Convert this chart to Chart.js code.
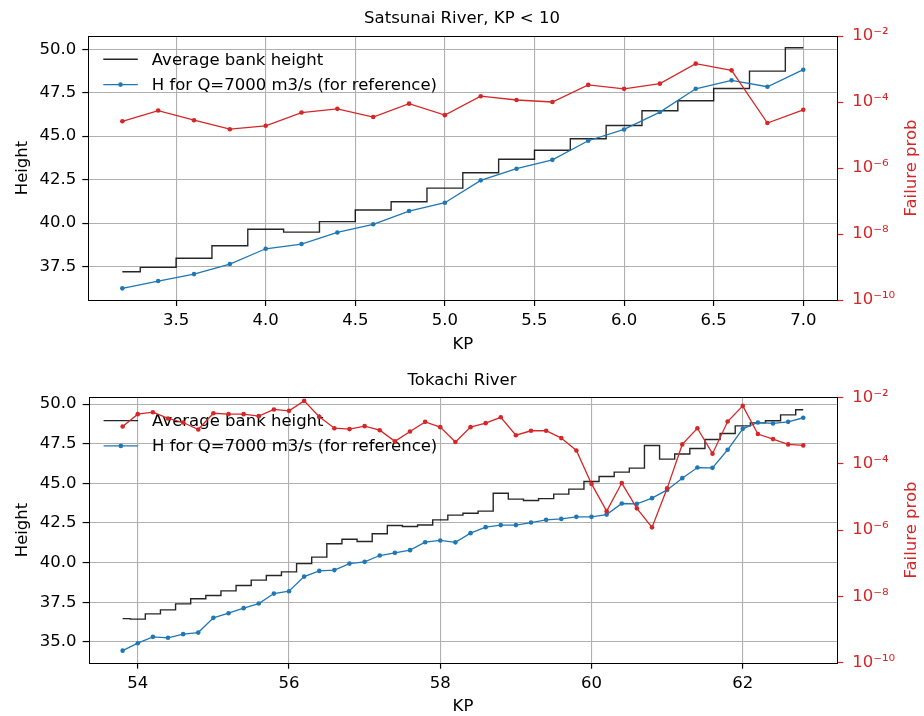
<!DOCTYPE html>
<html>
<head>
<meta charset="utf-8">
<title>Bank height and failure probability</title>
<script src="https://cdn.jsdelivr.net/npm/chart.js@4.4.1/dist/chart.umd.min.js"></script>
<style>
  html, body { margin: 0; padding: 0; background: #fff; }
  #wrap { position: relative; width: 924px; height: 716px; }
  canvas { position: absolute; left: 0; }
</style>
</head>
<body>
<div id="wrap">
  <canvas id="topChart" width="924" height="358" style="top:0;width:924px;height:358px"></canvas>
  <canvas id="bottomChart" width="924" height="358" style="top:358px;width:924px;height:358px"></canvas>
</div>
<script>
// Satsunai River, KP < 10
const satsunaiKP = [3.2, 3.4, 3.6, 3.8, 4.0, 4.2, 4.4, 4.6, 4.8, 5.0, 5.2, 5.4, 5.6, 5.8, 6.0, 6.2, 6.4, 6.6, 6.8, 7.0];
const satsunaiBank = [37.20, 37.45, 37.97, 38.69, 39.64, 39.48, 40.08, 40.75, 41.23, 42.01, 42.90, 43.67, 44.19, 44.85, 45.62, 46.47, 47.04, 47.75, 48.75, 50.09];
const satsunaiH7000 = [36.24, 36.66, 37.06, 37.64, 38.52, 38.79, 39.46, 39.93, 40.69, 41.17, 42.46, 43.13, 43.64, 44.74, 45.39, 46.39, 47.73, 48.22, 47.85, 48.83];
const satsunaiFailProb = [2.6e-5, 5.5e-5, 2.8e-5, 1.5e-5, 1.9e-5, 4.8e-5, 6.2e-5, 3.5e-5, 8.9e-5, 4.0e-5, 1.5e-4, 1.15e-4, 1.0e-4, 3.3e-4, 2.5e-4, 3.6e-4, 1.45e-3, 9.1e-4, 2.3e-5, 5.8e-5];

// Tokachi River
const tokachiKP = [53.8, 54.0, 54.2, 54.4, 54.6, 54.8, 55.0, 55.2, 55.4, 55.6, 55.8, 56.0, 56.2, 56.4, 56.6, 56.8, 57.0, 57.2, 57.4, 57.6, 57.8, 58.0, 58.2, 58.4, 58.6, 58.8, 59.0, 59.2, 59.4, 59.6, 59.8, 60.0, 60.2, 60.4, 60.6, 60.8, 61.0, 61.2, 61.4, 61.6, 61.8, 62.0, 62.2, 62.4, 62.6, 62.8];
const tokachiBank = [36.47, 36.44, 36.77, 37.02, 37.40, 37.72, 37.93, 38.22, 38.56, 38.90, 39.19, 39.42, 39.94, 40.35, 41.19, 41.48, 41.33, 41.82, 42.34, 42.28, 42.38, 42.70, 43.00, 43.12, 43.25, 44.38, 44.01, 43.92, 44.04, 44.32, 44.64, 45.12, 45.43, 45.71, 45.96, 47.39, 46.53, 46.85, 47.20, 47.77, 48.15, 48.63, 48.82, 48.95, 49.32, 49.64];
const tokachiH7000 = [34.45, 34.92, 35.32, 35.26, 35.49, 35.59, 36.52, 36.81, 37.13, 37.42, 38.05, 38.20, 39.12, 39.48, 39.53, 39.94, 40.05, 40.45, 40.62, 40.79, 41.29, 41.40, 41.28, 41.86, 42.24, 42.37, 42.37, 42.53, 42.70, 42.76, 42.89, 42.89, 43.03, 43.73, 43.71, 44.07, 44.59, 45.33, 46.00, 45.98, 47.12, 48.44, 48.84, 48.78, 48.88, 49.14];
const tokachiFailProb = [1.32e-3, 3.1e-3, 3.55e-3, 2.3e-3, 1.74e-3, 1.07e-3, 3.3e-3, 3.1e-3, 3.1e-3, 2.7e-3, 4.3e-3, 3.9e-3, 7.8e-3, 2.6e-3, 1.17e-3, 1.1e-3, 1.35e-3, 1.02e-3, 4.7e-4, 9.3e-4, 1.82e-3, 1.26e-3, 4.5e-4, 1.26e-3, 1.66e-3, 2.5e-3, 7.2e-4, 9.8e-4, 9.8e-4, 5.9e-4, 2.5e-4, 2.45e-5, 3.7e-6, 2.6e-5, 4.5e-6, 1.2e-6, 1.8e-5, 3.8e-4, 1.17e-3, 2.0e-4, 1.86e-3, 5.5e-3, 7.8e-4, 5.5e-4, 3.8e-4, 3.55e-4];

// tick labels
const satsunaiXTicks = [3.5, 4.0, 4.5, 5.0, 5.5, 6.0, 6.5, 7.0];
const tokachiXTicks = [54, 56, 58, 60, 62];
const satsunaiHeightTicks = [37.5, 40.0, 42.5, 45.0, 47.5, 50.0];
const tokachiHeightTicks = [35.0, 37.5, 40.0, 42.5, 45.0, 47.5, 50.0];
const probTicks = [1e-10, 1e-8, 1e-6, 1e-4, 1e-2];

const BLACK = 'rgba(0,0,0,0.85)';
const BLUE = '#1f77b4';
const RED = '#d62728';
const GRID = '#b0b0b0';
const FONT = 16.5;

Chart.defaults.font.family = "'DejaVu Sans', sans-serif";
Chart.defaults.font.size = FONT;
Chart.defaults.color = '#000';

const toXY = (xs, ys) => xs.map((x, i) => ({ x: x, y: ys[i] }));

// 1e-4 -> "10⁻⁴"
const sup = { '-': '\u207B', '0': '\u2070', '1': '\u00B9', '2': '\u00B2', '3': '\u00B3', '4': '\u2074', '5': '\u2075', '6': '\u2076', '7': '\u2077', '8': '\u2078', '9': '\u2079' };
const powLabel = v => '10' + String(Math.round(Math.log10(v))).split('').map(c => sup[c]).join('');

// legend inside the axes, drawn under the lines (red line crosses it)
const innerLegend = {
  id: 'innerLegend',
  beforeDatasetsDraw(chart) {
    const { ctx, chartArea } = chart;
    const x0 = chartArea.left + 15;
    const x1 = chartArea.left + 49.5;
    ctx.save();
    chart.data.datasets.slice(0, 2).forEach((ds, i) => {
      const y = chartArea.top + 23.3 + i * 25.3;
      ctx.strokeStyle = ds.borderColor;
      ctx.lineWidth = ds.borderWidth;
      ctx.beginPath();
      ctx.moveTo(x0, y);
      ctx.lineTo(x1, y);
      ctx.stroke();
      if (ds.pointRadius > 0) {
        ctx.fillStyle = ds.borderColor;
        ctx.beginPath();
        ctx.arc((x0 + x1) / 2, y, ds.pointRadius, 0, Math.PI * 2);
        ctx.fill();
      }
      ctx.fillStyle = '#000';
      ctx.font = FONT + "px 'DejaVu Sans'";
      ctx.textBaseline = 'middle';
      ctx.fillText(ds.label, chartArea.left + 63.5, y + 1);
    });
    ctx.restore();
  }
};

// black box round the plot, plus the right axis label read bottom-to-top
const frame = {
  id: 'frame',
  afterDatasetsDraw(chart) {
    const { ctx, chartArea: a } = chart;
    const l = Math.round(a.left), t = Math.round(a.top);
    ctx.save();
    ctx.strokeStyle = '#000';
    ctx.lineWidth = 1;
    ctx.strokeRect(l + 0.5, t + 0.5, Math.round(a.right) - l, Math.round(a.bottom) - t);

    ctx.translate(912, (a.top + a.bottom) / 2);
    ctx.rotate(-Math.PI / 2);
    ctx.fillStyle = RED;
    ctx.font = FONT + "px 'DejaVu Sans'";
    ctx.textAlign = 'center';
    ctx.textBaseline = 'middle';
    ctx.fillText('Failure prob', 0, 0);
    ctx.restore();
  }
};

function makeChart(id, o) {
  return new Chart(document.getElementById(id), {
    type: 'line',
    data: {
      datasets: [
        {
          label: 'Average bank height',
          data: toXY(o.kp, o.bank),
          yAxisID: 'y',
          stepped: 'middle',
          borderColor: BLACK,
          borderWidth: 1.4,
          pointRadius: 0,
          order: 2
        },
        {
          label: 'H for Q=7000 m3/s (for reference)',
          data: toXY(o.kp, o.h),
          yAxisID: 'y',
          borderColor: BLUE,
          backgroundColor: BLUE,
          borderWidth: 1.3,
          pointRadius: 2.3,
          pointBorderWidth: 0,
          order: 1
        },
        {
          label: 'Failure prob',
          data: toXY(o.kp, o.prob),
          yAxisID: 'y2',
          borderColor: RED,
          backgroundColor: RED,
          borderWidth: 1.3,
          pointRadius: 2.3,
          pointBorderWidth: 0,
          order: 0
        }
      ]
    },
    options: {
      responsive: false,
      animation: false,
      events: [],
      layout: { padding: 0 },
      plugins: {
        legend: { display: false },
        tooltip: { enabled: false },
        title: {
          display: true,
          text: o.title,
          color: '#000',
          font: { size: FONT, weight: 'normal' },
          padding: { top: o.titleTop, bottom: o.titleBottom }
        }
      },
      scales: {
        x: {
          type: 'linear',
          position: 'bottom',
          min: o.xMin,
          max: o.xMax,
          afterBuildTicks: s => { s.ticks = o.xTicks.map(v => ({ value: v })); },
          afterFit: s => { s.height = o.xAxisHeight; },
          ticks: { callback: v => v.toFixed(o.xDigits), padding: 5, color: '#000', maxRotation: 0, autoSkip: false },
          grid: { color: GRID, lineWidth: 1.1, tickColor: '#000', tickWidth: 1.2, tickLength: 6 },
          border: { display: false },
          title: { display: true, text: 'KP', color: '#000', font: { size: FONT, lineHeight: 1 }, padding: { top: 0, bottom: o.kpPad } }
        },
        y: {
          type: 'linear',
          position: 'left',
          min: o.yMin,
          max: o.yMax,
          afterBuildTicks: s => { s.ticks = o.yTicks.map(v => ({ value: v })); },
          afterFit: s => { s.width = o.leftWidth; },
          ticks: { callback: v => v.toFixed(1), padding: 6, color: '#000', autoSkip: false },
          grid: { color: GRID, lineWidth: 1.1, tickColor: '#000', tickWidth: 1.2, tickLength: 6 },
          border: { display: false },
          title: { display: true, text: 'Height', color: '#000', padding: { top: 12.6, bottom: 0 } }
        },
        y2: {
          type: 'logarithmic',
          position: 'right',
          min: 1e-10,
          max: 1e-2,
          afterBuildTicks: s => { s.ticks = probTicks.map(v => ({ value: v })); },
          afterFit: s => { s.width = 86.7; },
          ticks: { callback: v => powLabel(v), padding: 9, color: RED, autoSkip: false },
          grid: { drawOnChartArea: false, tickColor: RED, tickWidth: 1.2, tickLength: 6 },
          border: { display: false },
          title: { display: false, text: 'Failure prob' }
        }
      }
    },
    plugins: [innerLegend, frame]
  });
}

makeChart('topChart', {
  title: 'Satsunai River, KP < 10',
  kp: satsunaiKP, bank: satsunaiBank, h: satsunaiH7000, prob: satsunaiFailProb,
  xMin: 3.01, xMax: 7.19, xTicks: satsunaiXTicks, xDigits: 1,
  yMin: 35.57, yMax: 50.77, yTicks: satsunaiHeightTicks,
  leftWidth: 88.3, titleTop: 9, titleBottom: 7.2, xAxisHeight: 58, kpPad: 4.75
});

makeChart('bottomChart', {
  title: 'Tokachi River',
  kp: tokachiKP, bank: tokachiBank, h: tokachiH7000, prob: tokachiFailProb,
  xMin: 53.35, xMax: 63.25, xTicks: tokachiXTicks, xDigits: 0,
  yMin: 33.69, yMax: 50.43, yTicks: tokachiHeightTicks,
  leftWidth: 88.6, titleTop: 13.1, titleBottom: 6.4, xAxisHeight: 53.3, kpPad: 0.75
});
</script>
</body>
</html>
